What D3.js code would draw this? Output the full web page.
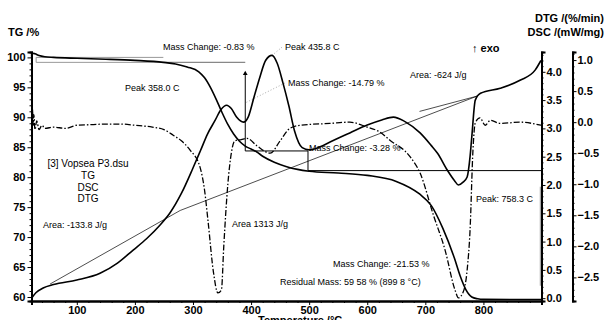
<!DOCTYPE html>
<html>
<head>
<meta charset="utf-8">
<script src="https://cdn.jsdelivr.net/npm/d3@7"></script>
<style>
  body { margin: 0; background: #fff; }
  text { font-family: Arial, "Liberation Sans", sans-serif; }
</style>
</head>
<body>
<svg id="chart" width="607" height="320"></svg>
<script>
// temperature (°C) / value pairs
const tgData = [[22,100.3],[24,100.7],[28,100.6],[35,100.3],[45,100.1],[60,100.0],[100,99.85],[150,99.7],[200,99.5],[249,99.17],[270,98.9],[290,98.4],[310,97.6],[320,96.6],[330,95.0],[340,93.0],[350,90.8],[360,88.8],[370,87.2],[380,86.0],[390,85.2],[400,84.7],[410,84.2],[420,83.5],[440,82.5],[460,81.8],[480,81.3],[500,81.0],[550,80.7],[600,80.3],[650,79.3],[690,77.2],[710,75.3],[730,71.5],[750,66.5],[760,63.5],[770,61.2],[780,60.0],[790,59.7],[800,59.6],[900,59.58]];
const dscData = [[22,0.0],[30,0.1],[42,0.18],[60,0.24],[100,0.32],[140,0.44],[170,0.62],[197,0.85],[220,1.05],[243,1.29],[260,1.5],[280,1.85],[300,2.3],[313,2.61],[325,2.9],[338,3.14],[348,3.33],[358,3.41],[366,3.35],[375,3.2],[387,3.11],[395,3.2],[405,3.55],[415,3.9],[425,4.2],[436,4.29],[445,4.15],[455,3.8],[465,3.4],[475,2.95],[488,2.66],[500,2.62],[520,2.68],[536,2.76],[570,2.92],[600,3.06],[625,3.15],[645,3.2],[665,3.12],[691,2.92],[710,2.7],[721,2.56],[738,2.26],[750,2.08],[757,2.0],[765,2.05],[772,2.14],[777,2.5],[780,2.85],[786,3.5],[795,3.62],[829,3.71],[863,3.85],[889,4.03],[899,4.2]];
const dtgData = [[22,1.13],[23,0.4],[24,0.15],[25,-0.05],[26,0.12],[28,-0.12],[31,0.02],[35,-0.12],[40,-0.05],[45,-0.1],[60,-0.08],[80,-0.1],[100,-0.05],[125,-0.04],[150,-0.03],[175,-0.03],[200,-0.05],[230,-0.08],[250,-0.12],[266,-0.21],[280,-0.3],[295,-0.45],[312,-0.72],[320,-1.1],[326,-1.6],[335,-2.4],[343,-2.75],[349,-2.7],[353,-2.0],[360,-1.0],[366,-0.5],[372,-0.3],[383,-0.28],[393,-0.26],[410,-0.38],[433,-0.5],[450,-0.3],[467,-0.1],[485,-0.05],[536,-0.02],[570,0.0],[600,-0.08],[620,-0.15],[639,-0.29],[674,-0.56],[691,-0.82],[714,-1.5],[734,-2.06],[751,-2.7],[757,-2.83],[765,-2.74],[772,-2.38],[777,-1.74],[782,-0.45],[786,-0.01],[794,0.07],[803,-0.05],[812,0.03],[829,-0.02],[863,0.0],[899,-0.05]];

// straight DSC integration baselines
const baseA = [[54,0.25],[278,1.55]];
const baseB = [[278,1.55],[789,3.57]];
const baseC = [[690,3.3],[789,3.57]];

// mass change steps (TG levels)
const massLevels = [100.0, 99.17, 84.38, 81.10, 59.58];

const xTicks = [100,200,300,400,500,600,700,800];
const tgTicks = [60,65,70,75,80,85,90,95,100];
const dscTicks = [0.0,0.5,1.0,1.5,2.0,2.5,3.0,3.5,4.0];
const dtgTicks = [-2.5,-2.0,-1.5,-1.0,-0.5,0.0,0.5,1.0];

const svg = d3.select("#chart");
const pLeft = 31.5, pRight = 541.5, pTop = 52, pBottom = 301;

const x = d3.scaleLinear().domain([22, 900]).range([pLeft, pRight]);
const yTG = d3.scaleLinear().domain([59.33, 100.9]).range([pBottom, pTop]);
const yDSC = d3.scaleLinear().domain([-0.05, 4.35]).range([pBottom, pTop]);
const yDTG = d3.scaleLinear().domain([-2.88, 1.13]).range([pBottom, pTop]);

const plot = svg.append("g");

// baselines
const lineDSC = d3.line().x(d => x(d[0])).y(d => yDSC(d[1]));
[baseA, baseB, baseC].forEach(b => {
  plot.append("path").attr("d", lineDSC(b)).attr("fill", "none")
    .attr("stroke", "#000").attr("stroke-width", 0.7);
});

// mass change markers
const mark = plot.append("g").attr("fill", "none");
const hline = (x1, x2, v, col, w) => mark.append("line").attr("x1", x(x1)).attr("x2", x(x2))
  .attr("y1", yTG(v)).attr("y2", yTG(v)).attr("stroke", col).attr("stroke-width", w || 1);
const vline = (xx, v1, v2, col) => mark.append("line").attr("x1", x(xx)).attr("x2", x(xx))
  .attr("y1", yTG(v1)).attr("y2", yTG(v2)).attr("stroke", col);
hline(30, 249, massLevels[0], "#999");
vline(30, massLevels[0], massLevels[1], "#999");
hline(30, 249, massLevels[1], "#999");
hline(249, 390, massLevels[1], "#888", 1.2);
vline(390, 97.5, massLevels[2], "#000");
mark.append("path").attr("d", d3.symbol(d3.symbolTriangle, 10)()).attr("transform", `translate(${x(390)},${yTG(97.3)})`).attr("fill", "#000");
hline(390, 498, massLevels[2], "#000");
vline(498, massLevels[2], massLevels[3], "#000");
hline(498, 900, massLevels[3], "#000");
mark.append("rect").attr("x", x(897)).attr("y", yDSC(1.97)).attr("width", 2.5).attr("height", yDSC(0.22) - yDSC(1.97)).attr("fill", "#aaa");

// dotted leaders
const lead = plot.append("g").attr("stroke", "#aaa").attr("stroke-dasharray", "1,2");
lead.append("line").attr("x1", x(436)).attr("y1", yDSC(4.29)).attr("x2", x(455)).attr("y2", yDSC(4.45));
lead.append("line").attr("x1", x(392)).attr("y1", yTG(92.5)).attr("x2", x(460)).attr("y2", yTG(95.8));

// curves
const lineTG = d3.line().x(d => x(d[0])).y(d => yTG(d[1])).curve(d3.curveMonotoneX);
const lineDSCc = d3.line().x(d => x(d[0])).y(d => yDSC(d[1])).curve(d3.curveMonotoneX);
const lineDTG = d3.line().x(d => x(d[0])).y(d => yDTG(d[1])).curve(d3.curveMonotoneX);

plot.append("path").attr("d", lineDTG(dtgData)).attr("fill", "none")
  .attr("stroke", "#000").attr("stroke-width", 1.3).attr("stroke-dasharray", "6,2,1.5,2");
plot.append("path").attr("d", lineDSCc(dscData)).attr("fill", "none")
  .attr("stroke", "#000").attr("stroke-width", 1.6);
plot.append("path").attr("d", lineTG(tgData)).attr("fill", "none")
  .attr("stroke", "#000").attr("stroke-width", 1.6);

// axes
const xAxis = svg.append("g").attr("transform", `translate(0,${pBottom})`)
  .call(d3.axisBottom(x).tickValues(xTicks).tickSize(4).tickPadding(1).tickFormat(d3.format("d")));
svg.append("g").attr("transform", `translate(0,${pBottom})`)
  .call(d3.axisBottom(x).tickValues(d3.range(40, 900, 20).filter(v => v % 100)).tickSize(2).tickFormat(""));
svg.append("g").attr("transform", `translate(${pLeft},0)`)
  .call(d3.axisLeft(yTG).tickValues(tgTicks).tickSize(4).tickPadding(2).tickFormat(d3.format("d")));
svg.append("g").attr("transform", `translate(${pLeft},0)`)
  .call(d3.axisLeft(yTG).tickValues(d3.range(60, 101, 1).filter(v => v % 5)).tickSize(2).tickFormat(""));
svg.append("g").attr("transform", `translate(${pRight},0)`)
  .call(d3.axisRight(yDSC).tickValues(dscTicks).tickSize(4).tickPadding(1).tickFormat(d3.format(".1f")));
svg.append("g").attr("transform", `translate(${pRight},0)`)
  .call(d3.axisRight(yDSC).tickValues(d3.range(0, 4.31, 0.1).filter(v => Math.round(v * 10) % 5)).tickSize(2).tickFormat(""));
svg.append("g").attr("transform", `translate(572.5,0)`)
  .call(d3.axisRight(yDTG).tickValues(dtgTicks).tickSize(4).tickPadding(1).tickFormat(d3.format(".1f")));
svg.append("g").attr("transform", `translate(572.5,0)`)
  .call(d3.axisRight(yDTG).tickValues(d3.range(-2.8, 1.11, 0.1).filter(v => Math.round(v * 10) % 5)).tickSize(2).tickFormat(""));

svg.selectAll(".domain").attr("stroke-width", 2);
svg.selectAll(".tick text").attr("font-size", 11).attr("font-weight", "bold").attr("fill", "#000");
svg.selectAll(".tick line").attr("stroke-width", 1);

// titles
const t = (txt, xx, yy, opts = {}) => svg.append("text").text(txt).attr("x", xx).attr("y", yy)
  .attr("font-size", opts.size || 9).attr("font-weight", opts.bold ? "bold" : "normal")
  .attr("text-anchor", opts.anchor || "start").attr("fill", "#000");

t("TG /%", 8, 36, {size: 11, bold: true});
t("DTG /(%/min)", 604, 22, {size: 11, bold: true, anchor: "end"});
t("DSC /(mW/mg)", 604, 36, {size: 11, bold: true, anchor: "end"});
t("↑ exo", 472, 52, {size: 11, bold: true});
t("Temperature /°C", 258, 324, {size: 11, bold: true});

t("Mass Change: -0.83 %", 163, 50);
t("Peak  435.8  C", 285, 50);
t("Mass Change: -14.79 %", 288, 86);
t("Area: -624 J/g", 410, 78);
t("Peak  358.0  C", 125, 91);
t("Mass Change: -3.28 %", 309, 151);
t("[3] Vopsea P3.dsu", 88, 167, {size: 10, anchor: "middle"});
t("TG", 88, 179, {size: 10, anchor: "middle"});
t("DSC", 88, 191, {size: 10, anchor: "middle"});
t("DTG", 88, 202, {size: 10, anchor: "middle"});
t("Area: -133.8 J/g", 43, 228);
t("Area  1313 J/g", 232, 227);
t("Peak: 758.3  C", 476, 202);
t("Mass Change: -21.53 %", 333, 267);
t("Residual Mass: 59 58 % (899 8 °C)", 280, 285);
</script>
</body>
</html>
